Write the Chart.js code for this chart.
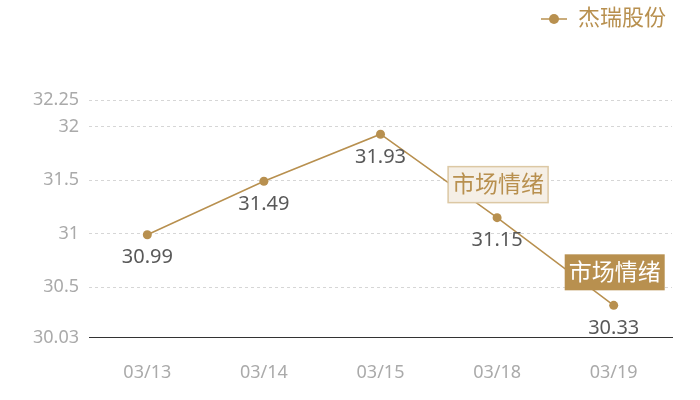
<!DOCTYPE html>
<html>
<head>
<meta charset="utf-8">
<script src="https://cdn.jsdelivr.net/npm/chart.js@4/dist/chart.umd.min.js"></script>
<style>
  html, body { margin: 0; padding: 0; background: #fff; }
  #wrap { width: 700px; height: 400px; }
</style>
</head>
<body>
<div id="wrap"><canvas id="chart"></canvas></div>
<script>
// ---- data ----
const categories = ['03/13', '03/14', '03/15', '03/18', '03/19'];
const prices = [30.99, 31.49, 31.93, 31.15, 30.33];
const yTicks = [30.03, 30.5, 31, 31.5, 32, 32.25];
const seriesName = '杰瑞股份';
const markers = [
  { index: 3, text: '市场情绪', dark: false },
  { index: 4, text: '市场情绪', dark: true }
];

const GOLD = '#b8904f';
const FONT = '"Noto Sans", "Noto Sans CJK SC", sans-serif';

// legend icon: short line with a dot
function legendIcon() {
  const c = document.createElement('canvas');
  c.width = 26; c.height = 12;
  const g = c.getContext('2d');
  g.strokeStyle = GOLD; g.lineWidth = 1.5;
  g.beginPath(); g.moveTo(0, 6); g.lineTo(26, 6); g.stroke();
  g.fillStyle = GOLD;
  g.beginPath(); g.arc(13, 6, 5, 0, Math.PI * 2); g.fill();
  return c;
}

// extra room under the legend so the plot starts lower
const legendSpacer = {
  id: 'legendSpacer',
  beforeInit(chart) {
    const fit = chart.legend.fit;
    chart.legend.fit = function () {
      fit.bind(chart.legend)();
      this.height += 60;
    };
  }
};

// value labels under points + marker boxes
const labelsPlugin = {
  id: 'labels',
  afterDatasetsDraw(chart) {
    const ctx = chart.ctx;
    const meta = chart.getDatasetMeta(0);
    ctx.save();
    ctx.font = '20px ' + FONT;
    ctx.fillStyle = '#595959';
    ctx.textAlign = 'center';
    ctx.textBaseline = 'middle';
    meta.data.forEach((pt, i) => {
      ctx.fillText(prices[i].toFixed(2), pt.x, pt.y + 23);
    });

    markers.forEach(m => {
      const pt = meta.data[m.index];
      ctx.font = '23px ' + FONT;
      const w = ctx.measureText(m.text).width + 8;
      const h = 36;
      const cx = pt.x + 1, cy = pt.y - 33;
      ctx.fillStyle = m.dark ? GOLD : '#f5efe6';
      ctx.fillRect(cx - w / 2, cy - h / 2, w, h);
      if (!m.dark) {
        ctx.strokeStyle = '#dcc8a4';
        ctx.lineWidth = 1.5;
        ctx.strokeRect(cx - w / 2, cy - h / 2, w, h);
      }
      ctx.fillStyle = m.dark ? '#fff' : GOLD;
      ctx.fillText(m.text, cx, cy + 1);
    });
    ctx.restore();
  }
};

new Chart(document.getElementById('chart'), {
  type: 'line',
  data: {
    labels: categories,
    datasets: [{
      label: seriesName,
      data: prices,
      borderColor: GOLD,
      backgroundColor: GOLD,
      borderWidth: 1.5,
      pointRadius: 4.5,
      pointHoverRadius: 4.5,
      pointBackgroundColor: GOLD,
      pointBorderWidth: 0,
      tension: 0
    }]
  },
  options: {
    responsive: true,
    maintainAspectRatio: false,
    animation: false,
    layout: { padding: { top: 2, right: 28, left: 23, bottom: -9 } },
    plugins: {
      tooltip: { enabled: false },
      legend: {
        position: 'top',
        align: 'end',
        labels: {
          usePointStyle: true,
          pointStyle: legendIcon(),
          pointStyleWidth: 26,
          color: GOLD,
          font: { size: 22, family: FONT },
          padding: 6
        }
      }
    },
    scales: {
      x: {
        offset: true,
        grid: { display: false, drawTicks: false },
        border: { display: true, color: '#333', width: 1 },
        ticks: { color: '#aaa', font: { size: 18, family: FONT }, padding: 25 }
      },
      y: {
        min: yTicks[0],
        max: yTicks[yTicks.length - 1],
        afterBuildTicks: axis => { axis.ticks = yTicks.map(v => ({ value: v })); },
        grid: { color: '#d6d6d6', drawTicks: false, lineWidth: 1 },
        border: { display: false, dash: [3, 3] },
        ticks: {
          color: '#aaa',
          font: { size: 18, family: FONT },
          padding: 10,
          callback: v => String(v)
        }
      }
    }
  },
  plugins: [legendSpacer, labelsPlugin]
});
</script>
</body>
</html>
